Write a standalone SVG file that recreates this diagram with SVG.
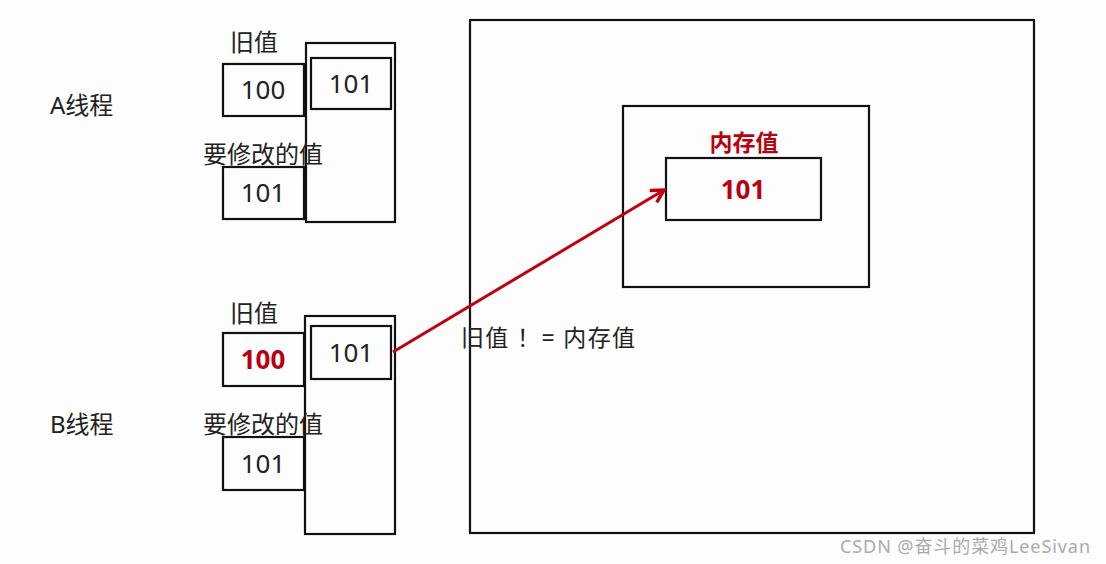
<svg xmlns="http://www.w3.org/2000/svg" width="1106" height="564" viewBox="0 0 1106 564">
<defs>
<style>
.box{fill:none;stroke:#111;stroke-width:2.2}
.t{font-family:"Noto Sans","Noto Sans CJK SC",sans-serif;fill:#222}
.lbl{font-size:24px}
.num{font-size:26px;text-anchor:middle}
.red{fill:#b8000f;font-weight:bold}
</style>
<marker id="ah" viewBox="0 0 14 14" refX="12" refY="7" markerWidth="16" markerHeight="16" markerUnits="userSpaceOnUse" orient="auto">
<path d="M1,1 L12,7 L1,13" fill="none" stroke="#c0000f" stroke-width="3"/>
</marker>
</defs>
<rect width="1106" height="564" fill="#fdfdfd"/>
<g id="memory">
<rect class="box" x="470" y="20" width="564" height="513"/>
<rect class="box" x="623" y="106" width="246" height="181"/>
<text class="t red" x="744" y="151" font-size="23" text-anchor="middle">内存值</text>
<rect class="box" x="666" y="158" width="155" height="62"/>
<text class="t red num" x="743" y="199">101</text>
</g>
<g id="threadA">
<text class="t lbl" x="50" y="114">A线程</text>
<rect class="box" x="306" y="43" width="89" height="179"/>
<rect class="box" x="311" y="58" width="80" height="51"/>
<text class="t num" x="351" y="93">101</text>
<text class="t lbl" x="230" y="51">旧值</text>
<rect class="box" x="223" y="64" width="81" height="52"/>
<text class="t num" x="263" y="99">100</text>
<text class="t lbl" x="203" y="163">要修改的值</text>
<rect class="box" x="223" y="167" width="81" height="52"/>
<text class="t num" x="263" y="202">101</text>
</g>
<g id="threadB">
<text class="t lbl" x="50" y="433">B线程</text>
<rect class="box" x="305" y="316" width="90" height="218"/>
<rect class="box" x="311" y="326" width="80" height="53"/>
<text class="t num" x="351" y="362">101</text>
<text class="t lbl" x="230" y="322">旧值</text>
<rect class="box" x="223" y="333" width="81" height="53"/>
<text class="t red num" x="263" y="369">100</text>
<text class="t lbl" x="203" y="433">要修改的值</text>
<rect class="box" x="223" y="437" width="81" height="53"/>
<text class="t num" x="263" y="473">101</text>
</g>
<g id="connectors">
<line x1="393" y1="352" x2="664" y2="190" stroke="#c0000f" stroke-width="3" marker-end="url(#ah)"/>
</g>
<text class="t" font-size="23" x="461" y="346" textLength="174">旧值 ！= 内存值</text>
<text x="840" y="553" font-family="'Noto Sans','Noto Sans CJK SC',sans-serif" font-size="18" fill="#aaa" textLength="250">CSDN @奋斗的菜鸡LeeSivan</text>
</svg>
